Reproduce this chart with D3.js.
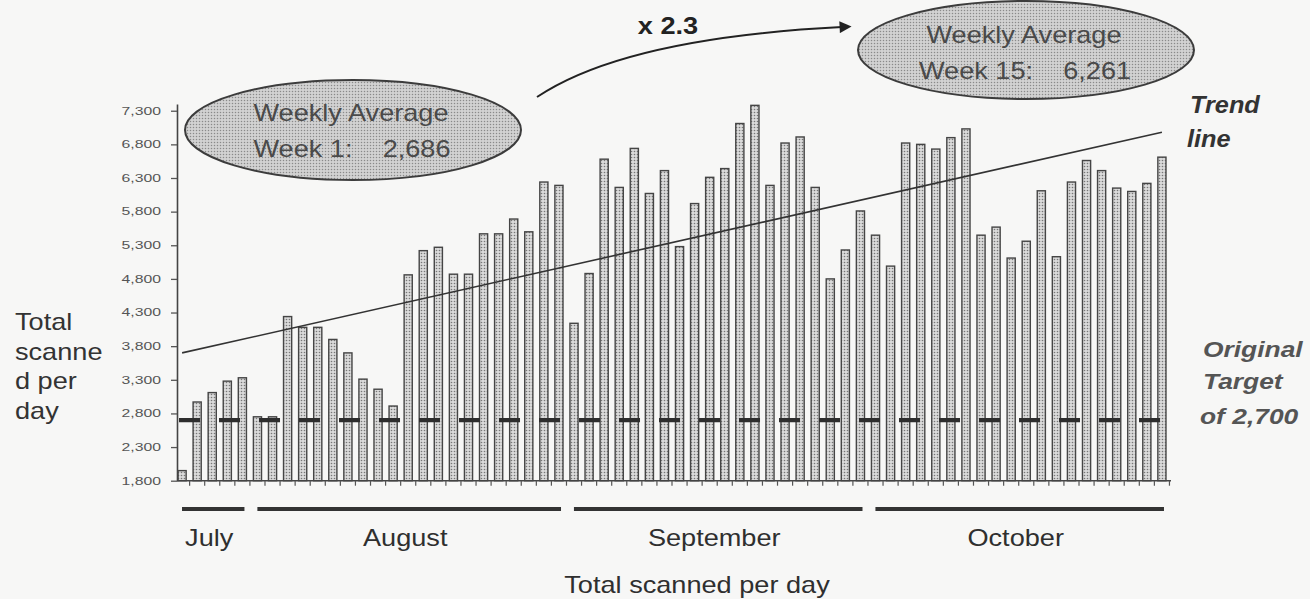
<!DOCTYPE html>
<html>
<head>
<meta charset="utf-8">
<script src="https://cdn.jsdelivr.net/npm/d3@7"></script>
<style>
  html, body { margin: 0; padding: 0; background: #f7f7f6; }
  svg { display: block; }
  text { font-family: "Liberation Sans", Arial, Helvetica, sans-serif; }
</style>
</head>
<body>
<svg id="chart" width="1310" height="599"></svg>
<script>
// ---- data ----
const days = d3.range(1, 67);           // working days, July to October
const scanned = [
  1950, 2970, 3110, 3280, 3330, 2750, 2750, 4240, 4080, 4080,
  3900, 3700, 3310, 3160, 2910, 4860, 5220, 5270, 4870, 4870,
  5470, 5470, 5690, 5500, 6240, 6190, 4140, 4880, 6580, 6160,
  6740, 6070, 6410, 5280, 5920, 6310, 6440, 7110, 7380, 6190,
  6820, 6910, 6160, 4800, 5230, 5810, 5450, 4990, 6820, 6800,
  6730, 6900, 7030, 5450, 5570, 5110, 5360, 6110, 5130, 6240,
  6560, 6410, 6150, 6100, 6220, 6610
];
const yTicks = [1800, 2300, 2800, 3300, 3800, 4300, 4800, 5300, 5800, 6300, 6800, 7300];
const target = 2700;
const trendEnds = [3700, 6980];          // trend value on the first and the last day
const months = ["July", "August", "September", "October"];
const monthFirstDay = [1, 6, 27, 47];
const monthLastDay = [5, 26, 46, 66];
const weekNames = ["Week 1:", "Week 15:"];
const weekAverages = [2686, 6261];
const growth = "x 2.3";

// ---- layout ----
const svg = d3.select("#chart");
const axisX = 177, baseY = 480.7;

const x = d3.scaleBand().domain(days).range([175, 1169])
  .paddingInner(0.46).paddingOuter(0.2);
const y = d3.scaleLinear().domain([1800, 7400]).range([baseY, 104]);
const step = x.step(), bw = x.bandwidth();
const fmt = d3.format(",");

// fill textures
const defs = svg.append("defs");
const barPat = defs.append("pattern").attr("id", "barDots")
  .attr("width", 3).attr("height", 3).attr("patternUnits", "userSpaceOnUse");
barPat.append("rect").attr("width", 3).attr("height", 3).attr("fill", "#dadada");
barPat.append("circle").attr("cx", 1.5).attr("cy", 1.5).attr("r", 0.8).attr("fill", "#777");

const ovalPat = defs.append("pattern").attr("id", "ovalDots")
  .attr("width", 3).attr("height", 3).attr("patternUnits", "userSpaceOnUse");
ovalPat.append("rect").attr("width", 3).attr("height", 3).attr("fill", "#d2d2d2");
ovalPat.append("circle").attr("cx", 1.5).attr("cy", 1.5).attr("r", 0.75).attr("fill", "#8a8a8a");

defs.append("marker").attr("id", "arrowHead")
  .attr("viewBox", "0 0 10 10").attr("refX", 2).attr("refY", 5)
  .attr("markerWidth", 7).attr("markerHeight", 6).attr("markerUnits", "strokeWidth")
  .attr("orient", "auto")
  .append("path").attr("d", "M0,0 L10,5 L0,10 Z").attr("fill", "#222");

// text drawn slightly wider than its natural shape
function wideText(parent, px, py, str, o = {}) {
  const sx = o.sx ?? 1.18;
  return parent.append("text")
    .attr("transform", `translate(${px},${py}) scale(${sx},1)`)
    .attr("text-anchor", o.anchor || "start")
    .attr("font-size", o.size || 23)
    .attr("font-weight", o.weight || "normal")
    .attr("font-style", o.style || "normal")
    .attr("fill", o.fill || "#333")
    .style("white-space", "pre")
    .text(str);
}

// ---- bars ----
svg.append("g").selectAll("rect").data(days).join("rect")
  .attr("x", d => x(d))
  .attr("y", (d, i) => y(scanned[i]))
  .attr("width", bw)
  .attr("height", (d, i) => baseY - y(scanned[i]))
  .attr("fill", "url(#barDots)")
  .attr("stroke", "#454545")
  .attr("stroke-width", 1.4);

// ---- y axis ----
const yAxis = svg.append("g").attr("transform", `translate(${axisX},0)`)
  .call(d3.axisLeft(y).tickValues(yTicks).tickSize(6).tickSizeOuter(0).tickFormat(""));
yAxis.select(".domain").attr("stroke", "#444").attr("stroke-width", 1.6);
yAxis.selectAll(".tick line").attr("stroke", "#555").attr("stroke-width", 1.3);
const yLabels = svg.append("g");
yTicks.forEach(v =>
  wideText(yLabels, 161, y(v) + 3.8, fmt(v), { anchor: "end", size: 10.5, sx: 1.5, fill: "#555" }));

// ---- x axis: baseline with a tick between neighbouring days ----
const xAxis = svg.append("g");
xAxis.append("line").attr("x1", axisX).attr("x2", x.range()[1] + 2)
  .attr("y1", baseY).attr("y2", baseY).attr("stroke", "#444").attr("stroke-width", 1.4);
xAxis.selectAll("line.tk").data(days).join("line").attr("class", "tk")
  .attr("x1", d => x(d) + bw + (step - bw) / 2)
  .attr("x2", d => x(d) + bw + (step - bw) / 2)
  .attr("y1", baseY).attr("y2", baseY + 5)
  .attr("stroke", "#555").attr("stroke-width", 1.2);

// ---- original target (dashed) ----
svg.append("line")
  .attr("x1", x(days[0]) + 1).attr("x2", x(days[days.length - 1]) + bw + 9)
  .attr("y1", y(target)).attr("y2", y(target))
  .attr("stroke", "#2e2e2e").attr("stroke-width", 4.4)
  .attr("stroke-dasharray", "21,19");

// ---- trend line ----
const trendDays = [days[0], days[days.length - 1]];
svg.append("path")
  .datum(trendDays.map((d, i) => [x(d) + bw / 2, y(trendEnds[i])]))
  .attr("d", d3.line())
  .attr("fill", "none").attr("stroke", "#333").attr("stroke-width", 1.6);

// ---- month brackets and names ----
const monthG = svg.append("g");
months.forEach((m, i) => {
  const x0 = x(monthFirstDay[i]) + 4;
  const x1 = x(monthLastDay[i]) + bw - 2;
  monthG.append("line").attr("x1", x0).attr("x2", x1)
    .attr("y1", 509).attr("y2", 509)
    .attr("stroke", "#333").attr("stroke-width", 4.2);
  wideText(monthG, (x0 + x1) / 2 - 4, 546, m, { anchor: "middle", fill: "#2f2f2f" });
});

// ---- axis titles ----
wideText(svg, 697, 593, "Total scanned per day", { anchor: "middle", fill: "#2f2f2f" });
["Total", "scanne", "d per", "day"].forEach((t, i) =>
  wideText(svg, 15, 330 + i * 29.7, t, { fill: "#333" }));

// ---- right side notes ----
wideText(svg, 1190, 113, "Trend", { size: 23, sx: 1.1, weight: "bold", style: "italic", fill: "#333" });
wideText(svg, 1187, 147, "line", { size: 23, sx: 1.1, weight: "bold", style: "italic", fill: "#333" });
wideText(svg, 1203, 357, "Original", { size: 22, sx: 1.2, weight: "bold", style: "italic", fill: "#555" });
wideText(svg, 1203, 389, "Target", { size: 22, sx: 1.2, weight: "bold", style: "italic", fill: "#555" });
wideText(svg, 1200, 424, "of " + fmt(target), { size: 22, sx: 1.2, weight: "bold", style: "italic", fill: "#555" });

// ---- weekly average ovals ----
const ovals = [
  { cx: 353, cy: 130, rx: 168, ry: 50, l1: 121, l2: 157 },
  { cx: 1026, cy: 50, rx: 168, ry: 49, l1: 43, l2: 79 }
];
ovals.forEach((o, i) => {
  svg.append("ellipse").attr("cx", o.cx).attr("cy", o.cy).attr("rx", o.rx).attr("ry", o.ry)
    .attr("fill", "url(#ovalDots)").attr("stroke", "#3c3c3c").attr("stroke-width", 2);
  wideText(svg, o.cx - 2, o.l1, "Weekly Average", { anchor: "middle", fill: "#4a4a4a" });
  wideText(svg, o.cx - 1, o.l2, weekNames[i] + "    " + fmt(weekAverages[i]),
    { anchor: "middle", fill: "#4a4a4a" });
});

// ---- growth arrow between the two weekly averages ----
svg.append("path")
  .attr("d", "M537,97 Q625,38 842,27")
  .attr("fill", "none").attr("stroke", "#222").attr("stroke-width", 2)
  .attr("marker-end", "url(#arrowHead)");
wideText(svg, 668, 34, growth, { anchor: "middle", size: 23, weight: "bold", fill: "#222" });
</script>
</body>
</html>
